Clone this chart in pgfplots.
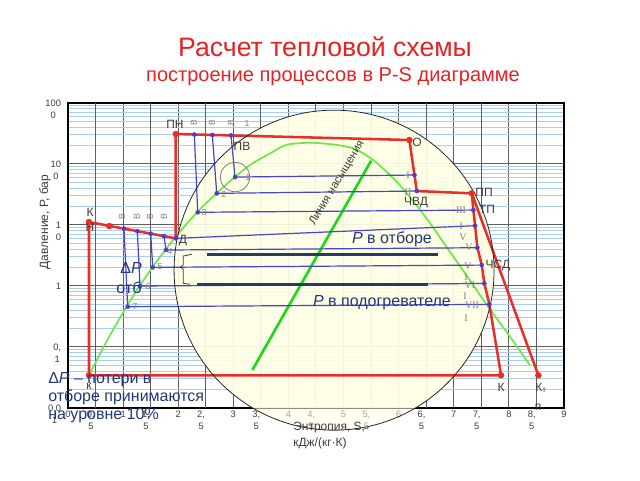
\documentclass[border=0pt]{standalone}
\usepackage{pgfplots}
\pgfplotsset{compat=1.18}
\usepackage{fontspec}
\setmainfont{Liberation Sans}
\newfontfamily\romfont{Liberation Serif}

\definecolor{ttlred}{RGB}{225,35,35}
\definecolor{procred}{RGB}{235,45,40}
\definecolor{heatblue}{RGB}{70,70,205}
\definecolor{dotblue}{RGB}{85,60,200}
\definecolor{satgreen}{RGB}{110,232,70}
\definecolor{xgreen}{RGB}{30,215,30}
\definecolor{navy}{RGB}{35,55,125}
\definecolor{barnavy}{RGB}{40,60,95}
\definecolor{minorgrid}{RGB}{170,205,240}
\definecolor{majorgrid}{RGB}{95,95,95}
\definecolor{circfill}{RGB}{255,254,228}
\definecolor{lbl}{RGB}{60,60,60}

\begin{document}
\begin{tikzpicture}
\useasboundingbox (0,0) rectangle (480pt,360pt);
\begin{axis}[
  at={(51pt,54.2pt)}, anchor=south west,
  scale only axis, width=372pt, height=228.75pt,
  xmin=0, xmax=9, ymode=log, ymin=0.01, ymax=1000,
  clip=false,
  xtick={0,1,2,3,4,5,6,7,8,9},
  xticklabels={0,1,2,3,4,5,6,7,8,9},
  extra x ticks={0.5,1.5,2.5,3.5,4.5,5.5,6.5,7.5,8.5},
  extra x tick labels={{0,\\5},{1,\\5},{2,\\5},{3,\\5},{4,\\5},{5,\\5},{6,\\5},{7,\\5},{8,\\5}},
  extra x tick style={grid style={minorgrid, line width=0.6pt},
    xticklabel style={xshift=-3.5pt}},
  ytick={0.01,0.1,1,10,100,1000},
  yticklabels={{0,0\\1},{0,\\1},1,{1\\0},{10\\0},{100\\0}},
  grid=both,
  major grid style={majorgrid, line width=0.75pt},
  minor grid style={minorgrid, line width=0.6pt},
  major tick length=0pt, minor tick length=0pt,
  axis line style={black, line width=1.5pt},
  xticklabel style={align=center, anchor=north, inner sep=0pt, yshift=-2.5pt,
    font=\fontsize{7}{9}\selectfont, text=lbl},
  yticklabel style={align=center, anchor=north east, inner sep=0pt, xshift=-5pt, yshift=2.5pt,
    font=\fontsize{7}{9}\selectfont, text=lbl},
  /pgf/number format/assume math mode=true,
]
% magnifier circle (background): denser inside the axis, lighter below it
\begin{scope}
\clip (rel axis cs:0,0) rectangle (rel axis cs:1,1);
\fill[circfill, opacity=0.92] (axis cs:4.828,1.80) circle[radius=120pt];
\end{scope}
\begin{scope}
\clip (rel axis cs:0,0) rectangle (rel axis cs:1,-0.2);
\fill[circfill, opacity=0.55] (axis cs:4.828,1.80) circle[radius=120pt];
\end{scope}

% saturation line
\addplot[satgreen, line width=1.3pt, smooth, tension=0.45] coordinates {
 (0.381,0.034) (0.476,0.05) (0.649,0.1) (0.832,0.2) (1.091,0.5) (1.303,1)
 (1.530,2) (1.861,5) (2.138,10) (2.447,20) (2.921,50) (3.30,95) (3.68,150)
 (3.97,205) (4.42,221) (4.85,205) (5.18,179) (5.40,140) (5.62,100)
 (5.97,50) (6.34,20) (6.59,10) (6.82,5) (7.13,2) (7.36,1) (7.59,0.5)
 (7.91,0.2) (8.15,0.1) (8.38,0.05)};
% second green line
\addplot[xgreen, line width=2pt] coordinates {(5.50,112) (3.345,0.0415)};

% heater -> extraction lines
\addplot[heatblue, line width=0.9pt] coordinates {(3.031,60.5) (6.287,65.3)};
\addplot[heatblue, line width=0.9pt] coordinates {(2.699,32.7) (6.329,35.7)};
\addplot[heatblue, line width=0.9pt] coordinates {(2.354,16.0) (7.356,17.4)};
\addplot[heatblue, line width=0.9pt] coordinates {(1.955,5.98) (7.387,9.64)};
\addplot[heatblue, line width=0.9pt] coordinates {(1.779,3.85) (7.428,4.20)};
\addplot[heatblue, line width=0.9pt] coordinates {(1.537,2.0) (7.508,2.18)};
\addplot[heatblue, line width=0.9pt] coordinates {(1.307,0.989) (7.555,1.09)};
\addplot[heatblue, line width=0.9pt] coordinates {(1.083,0.453) (7.646,0.495)};
% heating of water in heaters
\addplot[heatblue, line width=0.9pt] coordinates {(3.031,60.5) (2.958,291)};
\addplot[heatblue, line width=0.9pt] coordinates {(2.699,32.7) (2.619,296.5)};
\addplot[heatblue, line width=0.9pt] coordinates {(2.354,16.0) (2.292,301)};
\addplot[heatblue, line width=0.9pt] coordinates {(1.779,3.85) (1.742,6.50)};
\addplot[heatblue, line width=0.9pt] coordinates {(1.537,2.0) (1.501,7.14)};
\addplot[heatblue, line width=0.9pt] coordinates {(1.307,0.989) (1.258,7.85)};
\addplot[heatblue, line width=0.9pt] coordinates {(1.083,0.453) (1.016,8.63)};

% pressure marker bars
\addplot[barnavy, line width=2.2pt] coordinates {(2.517,3.27) (6.72,3.27)};
\addplot[barnavy, line width=2.2pt] coordinates {(2.336,1.054) (6.539,1.054)};

% cycle
\addplot[procred, line width=1.9pt] coordinates {
 (7.858,0.034) (0.381,0.034) (0.381,11.07) (1.955,5.98) (1.955,307)
 (6.194,245) (6.329,35.7) (7.327,32.7) (7.356,17.4) (7.387,9.64)
 (7.428,4.20) (7.508,2.18) (7.555,1.09) (7.646,0.495) (7.858,0.034)};
\addplot[procred, line width=1.9pt] coordinates {(7.327,32.7) (8.535,0.034)};

\addplot[only marks, mark=*, mark size=2.2pt, procred] coordinates {
 (0.381,0.034) (0.381,11.07) (0.750,9.52) (1.955,307) (6.194,245)
 (7.327,32.7) (7.858,0.034) (8.535,0.034)};
\addplot[only marks, mark=*, mark size=1.5pt, dotblue] coordinates {
 (3.031,60.5) (2.699,32.7) (2.354,16.0) (1.955,5.98) (1.779,3.85)
 (1.537,2.0) (1.307,0.989) (1.083,0.453)
 (6.287,65.3) (6.329,35.7) (7.356,17.4) (7.387,9.64) (7.428,4.20)
 (7.508,2.18) (7.555,1.09) (7.646,0.495)
 (2.958,291) (2.619,296.5) (2.292,301)
 (1.742,6.50) (1.501,7.14) (1.258,7.85) (1.016,8.63)};

\draw[gray, line width=0.6pt] (axis cs:3.031,60.5) circle[radius=11pt];
\draw[black!85, line width=0.6pt] (axis cs:4.828,1.80) circle[radius=120pt];
\end{axis}

\begin{scope}[shift={(0pt,360pt)}, x=0.75pt, y=-0.75pt]
\node[text=ttlred, font=\fontsize{20}{24}\selectfont] at (325,47) {Расчет тепловой схемы};
\node[text=ttlred, font=\fontsize{15}{18}\selectfont] at (333,77) {построение процессов в P-S диаграмме};

\node[rotate=90, text=lbl, font=\fontsize{9}{11}\selectfont] at (45,222) {Давление, P, бар};
\node[align=left, anchor=north west, inner sep=0pt, text=lbl, font=\fontsize{9}{12}\selectfont]
  at (293,422) {Энтропия, S,\\кДж/(кг·К)};

\begin{scope}[text=lbl, font=\fontsize{9}{10}\selectfont]
\node at (175,124) {ПН};
\node at (242,146) {ПВ};
\node at (417,142) {О};
\node at (416,203) {ЧВД};
\node at (484,192) {ПП};
\node at (487,209) {ТП};
\node at (498,266) {ЧСД};
\node at (183,241) {Д};
\node at (501,387) {К};
\node at (541,388) {К\textsubscript{т}};
\node at (538,407) {п};
\node at (90,212) {К};
\node at (90,227) {Н};
\node at (89,386) {к};
\end{scope}

\begin{scope}[text=gray, font=\fontsize{6.5}{7}\selectfont]
\node at (248,178) {1};
\node at (224,194) {2};
\node at (204,213) {3};
\node at (170,252) {4};
\node at (160,267) {5};
\node at (148,287) {6};
\node at (135,307) {7};
\foreach \xx in {194,212,231} {\node[rotate=90] at (\xx,123) {В};}
\node at (247,124) {1};
\foreach \xx in {122,137,150,164} {\node[rotate=90] at (\xx,217) {В};}
\end{scope}

\begin{scope}[text=gray, font=\romfont\fontsize{7.5}{8}\selectfont]
\node at (408,175) {I};
\node at (408,192) {II};
\node at (461,210) {III};
\node at (461,226) {I};
\node at (463,237) {V};
\node at (469,247) {V};
\node at (468,266) {V};
\node at (466,277) {I};
\node at (470,285) {VI};
\node at (465,296) {I};
\node at (472,305) {VII};
\node at (466,318) {I};
\end{scope}

\node[text=lbl, rotate=59, font=\fontsize{8.5}{10}\selectfont] at (337,183) {Линия насыщения};

\draw[black!75, line width=0.6pt] (191.7,254.3)--(183.3,256)--(183.3,265)--(180.5,267)--(183.3,269.5)--(183.3,283.3)--(190,284.3);

\begin{scope}[text=navy, font=\fontsize{12}{13.5}\selectfont]
\node at (392,239) {\textit{P} в отборе};
\node at (382,303) {\textit{P} в подогревателе};
\node at (131,268) {Δ\textit{P}};
\node at (129,288) {отб};
\node[align=left, anchor=west, inner sep=0pt] at (48,398) {Δ\textit{P} – потери в\\отборе принимаются\\на уровне 10\%};
\end{scope}
\end{scope}
\end{tikzpicture}
\end{document}
